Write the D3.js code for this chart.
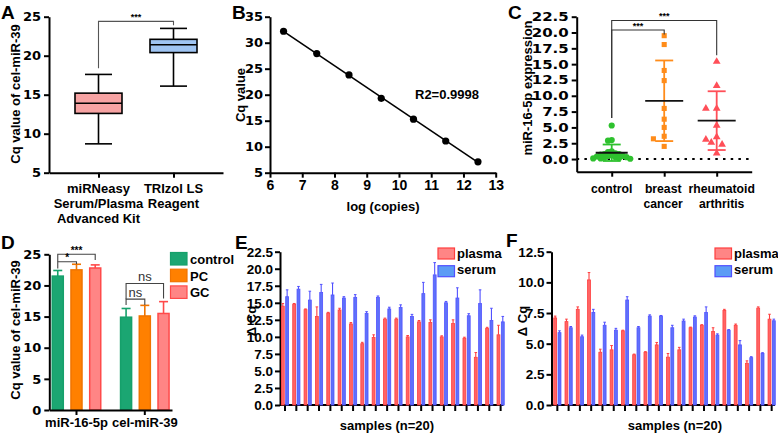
<!DOCTYPE html>
<html><head><meta charset="utf-8">
<script src="https://cdn.jsdelivr.net/npm/d3@7"></script>
<style>
body{margin:0;background:#fff;}
svg{display:block;}
</style></head><body>
<svg id="c" width="778" height="433"></svg>
<script>
// ================= DATA =================
// Panel A: box plots
const kitNames = ["miRNeasy", "TRIzol"];
const kitLabels = [["miRNeasy", "Serum/Plasma", "Advanced Kit"], ["TRIzol LS", "Reagent"]];
const boxMin = [8.7, 16.1];
const boxQ1 = [12.6, 20.4];
const boxMedian = [13.9, 21.4];
const boxQ3 = [15.2, 22.1];
const boxMax = [17.6, 23.5];
const yTicksA = [5, 10, 15, 20, 25];

// Panel B: standard curve
const logCopies = [6.42, 7.45, 8.45, 9.45, 10.45, 11.45, 12.45];
const cqValues = [32.2, 27.9, 23.8, 19.3, 15.3, 11.1, 7.1];
const r2Label = "R2=0.9998";
const xTicksB = [6, 7, 8, 9, 10, 11, 12, 13];
const yTicksB = [5, 10, 15, 20, 25, 30, 35];

// Panel C: scatter with mean ± SD
const groupsC = ["control", "breast cancer", "rheumatoid arthritis"];
const groupLabelsC = [["control"], ["breast", "cancer"], ["rheumatoid", "arthritis"]];
const controlValues = [5.3, 3.0, 2.9, 1.2, 1.1, 0.9, 0.8, 0.8, 0.7, 0.6, 0.5, 0.5, 0.4, 0.3, 0.3, 0.2, 0.15, 0.1, 0.1, 0.05];
const breastValues = [19.5, 18.1, 14.0, 12.4, 8.0, 6.3, 5.0, 3.6, 3.2, 2.0];
const rheumValues = [15.4, 11.6, 8.0, 8.0, 5.3, 3.5, 3.1, 2.6, 2.3, 0.9];
const yTicksC = [0, 2.5, 5, 7.5, 10, 12.5, 15, 17.5, 20, 22.5];

// Panel D: grouped bars
const targetsD = ["miR-16-5p", "cel-miR-39"];
const seriesD = ["control", "PC", "GC"];
const controlMeanD = [21.5, 14.9];
const pcMeanD = [22.5, 15.1];
const gcMeanD = [22.8, 15.5];
const controlSdD = [0.9, 1.4];
const pcSdD = [0.9, 1.7];
const gcSdD = [0.5, 1.9];
const yTicksD = [0, 5, 10, 15, 20, 25];

// Panel E: ΔCq per sample (mean, SD)
const samples = d3.range(1, 21).map(String);
const ePlasma = [14.5, 14.8, 14.0, 13.0, 13.5, 13.95, 11.9, 9.0, 9.9, 12.6, 12.6, 10.0, 12.2, 12.1, 10.0, 11.95, 9.8, 7.0, 11.25, 10.3];
const ePlasmaSd = [0.4, 0.1, 0.1, 1.4, 0.1, 0.25, 0.2, 0.2, 0.4, 0.15, 0.15, 0.2, 0.2, 0.4, 0.15, 0.55, 0.15, 0.7, 0.15, 1.4];
const eSerum = [15.9, 17.0, 15.4, 16.5, 16.15, 15.7, 15.8, 13.45, 15.8, 14.1, 14.3, 13.0, 16.35, 19.1, 15.0, 15.7, 13.1, 14.9, 12.4, 12.2];
const eSerumSd = [1.0, 0.4, 1.3, 1.2, 1.75, 0.2, 0.4, 0.25, 0.2, 0.25, 0.4, 0.3, 1.65, 1.8, 0.2, 1.5, 0.3, 2.0, 1.8, 0.8];
const yTicksE = [0, 2.5, 5, 7.5, 10, 12.5, 15, 17.5, 20, 22.5];

// Panel F
const fPlasma = [7.1, 6.8, 7.8, 10.2, 4.3, 4.5, 6.05, 4.1, 4.3, 4.9, 3.9, 4.5, 6.3, 6.5, 6.0, 7.7, 6.5, 3.4, 7.9, 7.0];
const fPlasmaSd = [0.15, 0.2, 0.2, 0.6, 0.25, 0.35, 0.05, 0.05, 0.05, 0.2, 0.3, 0.2, 0.05, 0.05, 0.3, 0.1, 0.1, 0.2, 0.1, 0.4];
const fSerum = [5.9, 6.3, 5.57, 7.55, 6.5, 6.1, 8.56, 6.3, 7.25, 7.25, 6.3, 6.85, 7.17, 7.55, 5.7, 6.1, 4.9, 3.86, 4.2, 6.87];
const fSerumSd = [0.15, 0.1, 0.13, 0.25, 0.25, 0.15, 0.27, 0.1, 0.1, 0.05, 0.2, 0.15, 0.1, 0.45, 0.1, 0.05, 0.35, 0.08, 0.07, 0.13];
const yTicksF = [0, 2.5, 5, 7.5, 10, 12.5];
const seriesEF = ["plasma", "serum"];

// ================= DRAW =================
const FONT = '"Liberation Sans", Arial, Helvetica, sans-serif';
const TFONT = '"DejaVu Sans", "Liberation Sans", sans-serif';
const svg = d3.select("#c");
svg.append("rect").attr("width", 778).attr("height", 433).attr("fill", "#fff");

function styleAxis(g, size, family) {
  g.attr("font-family", family || FONT).attr("font-size", size).attr("font-weight", "bold");
  g.select(".domain").attr("stroke", "#000").attr("stroke-width", 2);
  g.selectAll(".tick line").attr("stroke", "#000").attr("stroke-width", 2);
  g.selectAll(".tick text").attr("fill", "#000");
  return g;
}
function txt(x, y, s, size, opts) {
  opts = opts || {};
  return svg.append("text").attr("x", x).attr("y", y).text(s)
    .attr("font-family", opts.family || FONT).attr("font-size", size)
    .attr("font-weight", opts.weight || "bold").attr("fill", opts.fill || "#000")
    .attr("text-anchor", opts.anchor || "start");
}
function yTitle(s, x, y, size) {
  svg.append("text").attr("transform", `translate(${x},${y}) rotate(-90)`)
    .attr("dy", "0.35em").attr("text-anchor", "middle").attr("font-family", FONT)
    .attr("font-size", size || 13).attr("font-weight", "bold").text(s);
}
function bracket(pts, stroke) {
  svg.append("path").attr("d", d3.line()(pts)).attr("fill", "none")
    .attr("stroke", stroke || "#444").attr("stroke-width", 1.1);
}

// Panel letters
[["A", 1, 19], ["B", 232, 19], ["C", 508, 19], ["D", 1, 249], ["E", 235, 249], ["F", 506, 247]]
  .forEach(d => txt(d[1], d[2], d[0], 19));

// ---------- Panel A ----------
{
  const x = d3.scalePoint().domain(kitNames).range([49, 223]).padding(0.66);
  const y = d3.scaleLinear().domain([5, 25]).range([172.7, 16.7]);
  styleAxis(svg.append("g").attr("transform", "translate(49,0)")
    .call(d3.axisLeft(y).tickValues(yTicksA).tickFormat(d3.format("d")).tickSize(5).tickSizeOuter(0).tickPadding(3)), 13, TFONT);
  styleAxis(svg.append("g").attr("transform", "translate(0,172.7)")
    .call(d3.axisBottom(x).tickSize(5).tickSizeOuter(0).tickFormat("")), 13);
  const fills = ["#f7a3a3", "#9fc4f2"];
  kitNames.forEach((k, i) => {
    const cx = x(k), bw = 47, cw = 27;
    const g = svg.append("g").attr("stroke", "#000").attr("stroke-width", 1.6);
    g.append("line").attr("x1", cx).attr("x2", cx).attr("y1", y(boxQ3[i])).attr("y2", y(boxMax[i]));
    g.append("line").attr("x1", cx).attr("x2", cx).attr("y1", y(boxQ1[i])).attr("y2", y(boxMin[i]));
    g.append("line").attr("x1", cx - cw / 2).attr("x2", cx + cw / 2).attr("y1", y(boxMax[i])).attr("y2", y(boxMax[i]));
    g.append("line").attr("x1", cx - cw / 2).attr("x2", cx + cw / 2).attr("y1", y(boxMin[i])).attr("y2", y(boxMin[i]));
    g.append("rect").attr("x", cx - bw / 2).attr("width", bw).attr("y", y(boxQ3[i]))
      .attr("height", y(boxQ1[i]) - y(boxQ3[i])).attr("fill", fills[i]);
    g.append("line").attr("x1", cx - bw / 2).attr("x2", cx + bw / 2).attr("y1", y(boxMedian[i])).attr("y2", y(boxMedian[i]));
    kitLabels[i].forEach((l, j) => txt(cx, 193 + j * 15, l, 13, { anchor: "middle" }));
  });
  bracket([[x(kitNames[0]), y(18.4)], [x(kitNames[0]), y(24.4)], [x(kitNames[1]), y(24.4)], [x(kitNames[1]), y(23.9)]], "#555");
  txt((x(kitNames[0]) + x(kitNames[1])) / 2, y(24.4) - 1, "***", 9, { anchor: "middle" });
  yTitle("Cq value of cel-miR-39", 15, 94);
}

// ---------- Panel B ----------
{
  const x = d3.scaleLinear().domain([6, 13]).range([270, 495.7]);
  const y = d3.scaleLinear().domain([5, 35]).range([172.7, 16.7]);
  styleAxis(svg.append("g").attr("transform", "translate(270,0)")
    .call(d3.axisLeft(y).tickValues(yTicksB).tickFormat(d3.format("d")).tickSize(5).tickSizeOuter(0).tickPadding(2)), 13, TFONT);
  styleAxis(svg.append("g").attr("transform", "translate(0,172.7)")
    .call(d3.axisBottom(x).tickValues(xTicksB).tickFormat(d3.format("d")).tickSize(5).tickSizeOuter(0).tickPadding(2)), 14);
  const mx = d3.mean(logCopies), my = d3.mean(cqValues);
  const slope = d3.sum(logCopies, (v, i) => (v - mx) * (cqValues[i] - my)) / d3.sum(logCopies, v => (v - mx) * (v - mx));
  const icpt = my - slope * mx;
  const ex = d3.extent(logCopies);
  svg.append("line").attr("x1", x(ex[0])).attr("x2", x(ex[1]))
    .attr("y1", y(icpt + slope * ex[0])).attr("y2", y(icpt + slope * ex[1]))
    .attr("stroke", "#000").attr("stroke-width", 1.6);
  svg.selectAll(".ptB").data(logCopies).enter().append("circle")
    .attr("cx", d => x(d)).attr("cy", (d, i) => y(cqValues[i])).attr("r", 3.6).attr("fill", "#000");
  txt(415, 99, r2Label, 13);
  txt(383, 211, "log (copies)", 13, { anchor: "middle" });
  yTitle("Cq value", 240, 95);
}

// ---------- Panel C ----------
{
  const x = d3.scalePoint().domain(groupsC).range([576.7, 751.7]).padding(0.667);
  const y = d3.scaleLinear().domain([-2, 22.5]).range([171.7, 16.7]);
  const ax = styleAxis(svg.append("g").attr("transform", "translate(576.7,0)")
    .call(d3.axisLeft(y).tickValues(yTicksC).tickFormat(d3.format(".1f")).tickSize(5).tickSizeOuter(0).tickPadding(3)), 12.5, TFONT);
  ax.selectAll(".tick text").attr("transform", "scale(1.2,1)").attr("x", -8 / 1.2);
  styleAxis(svg.append("g").attr("transform", "translate(0,171.7)")
    .call(d3.axisBottom(x).tickSize(5).tickSizeOuter(0).tickFormat("")), 13);
  svg.append("line").attr("x1", 576.7).attr("x2", 751.7).attr("y1", y(0)).attr("y2", y(0))
    .attr("stroke", "#000").attr("stroke-width", 2).attr("stroke-dasharray", "2.5,5.2");
  const colors = ["#2ec12e", "#ff8c1a", "#ff4f58"];
  const sets = [controlValues, breastValues, rheumValues];
  const shapes = [d3.symbolCircle, d3.symbolSquare, d3.symbolTriangle];
  const sizes = [30, 26, 26];
  const labelShift = [0, -1, 5];
  sets.forEach((vals, gi) => {
    const cx = x(groupsC[gi]);
    // beeswarm layout (dense, Prism-like)
    const minD = gi === 0 ? 3.7 : 6.0, step = gi === 0 ? 3.7 : 5.4;
    const pts = vals.map(v => ({ v, py: y(v), px: cx }));
    const placed = [];
    pts.slice().sort((a, b) => b.v - a.v).forEach(p => {
      for (let i = 0; i < 80; i++) {
        const off = i === 0 ? 0 : (i % 2 ? -1 : 1) * Math.ceil(i / 2) * step;
        const ok = placed.every(q => Math.hypot(q.px - (cx + off), q.py - p.py) >= minD);
        if (ok) { p.px = cx + off; break; }
      }
      placed.push(p);
    });
    svg.append("g").selectAll("path").data(pts).enter().append("path")
      .attr("d", d3.symbol().type(shapes[gi]).size(sizes[gi]))
      .attr("transform", d => `translate(${d.px},${d.py})`).attr("fill", colors[gi]);
    const m = d3.mean(vals), sd = d3.deviation(vals);
    const g = svg.append("g").attr("stroke-width", 1.8);
    g.append("line").attr("x1", cx).attr("x2", cx).attr("y1", y(m - sd)).attr("y2", y(m + sd)).attr("stroke", colors[gi]);
    [m - sd, m + sd].forEach(v => g.append("line").attr("x1", cx - 9).attr("x2", cx + 9)
      .attr("y1", y(v)).attr("y2", y(v)).attr("stroke", colors[gi]));
    const mw = gi === 0 ? 16 : 19;
    g.append("line").attr("x1", cx - mw).attr("x2", cx + mw).attr("y1", y(m)).attr("y2", y(m)).attr("stroke", "#111");
    groupLabelsC[gi].forEach((l, j) => txt(cx + labelShift[gi], 193 + j * 14.6, l, 12.2, { anchor: "middle" }));
  });
  const c0 = x(groupsC[0]), c1 = x(groupsC[1]), c2 = x(groupsC[2]);
  bracket([[c0, y(6.5)], [c0, y(21.9)], [c2, y(21.9)], [c2, y(16.4)]], "#333");
  bracket([[c0, y(6.5)], [c0, y(20.4)], [c1, y(20.4)], [c1, y(19.7)]], "#333");
  txt((c0 + c1) / 2, y(20.4) - 1, "***", 9, { anchor: "middle" });
  txt((c0 + c2) / 2, y(21.9) - 1, "***", 9, { anchor: "middle" });
  yTitle("miR-16-5p expression", 527, 88);
}

// ---------- Panel D ----------
{
  const x0 = d3.scaleBand().domain(targetsD).range([49.3, 172]).paddingInner(0.268).paddingOuter(0.032);
  const x1 = d3.scaleBand().domain(seriesD).range([0, x0.bandwidth()]).paddingInner(0.33);
  const y = d3.scaleLinear().domain([0, 25]).range([410, 254.3]);
  styleAxis(svg.append("g").attr("transform", "translate(49.3,0)")
    .call(d3.axisLeft(y).tickValues(yTicksD).tickFormat(d3.format("d")).tickSize(5).tickSizeOuter(0).tickPadding(3)), 13, TFONT);
  const means = [controlMeanD, pcMeanD, gcMeanD], sds = [controlSdD, pcSdD, gcSdD];
  const fills = ["#1ba672", "#ff8000", "#ff8585"];
  const strokes = ["#16a06b", "#f07400", "#ff4a4a"];
  targetsD.forEach((t, ti) => {
    seriesD.forEach((s, si) => {
      const bx = x0(t) + x1(s), bw = x1.bandwidth(), cx = bx + bw / 2;
      const v = means[si][ti], e = sds[si][ti];
      svg.append("line").attr("x1", cx).attr("x2", cx).attr("y1", y(v)).attr("y2", y(v + e))
        .attr("stroke", strokes[si]).attr("stroke-width", 1.6);
      svg.append("line").attr("x1", cx - 4.5).attr("x2", cx + 4.5).attr("y1", y(v + e)).attr("y2", y(v + e))
        .attr("stroke", strokes[si]).attr("stroke-width", 1.6);
      svg.append("rect").attr("x", bx + 0.75).attr("width", bw - 1.5).attr("y", y(v)).attr("height", y(0) - y(v))
        .attr("fill", fills[si]).attr("stroke", strokes[si]).attr("stroke-width", 1.5);
    });
  });
  styleAxis(svg.append("g").attr("transform", "translate(0,410)")
    .call(d3.axisBottom(x0).tickSize(5).tickSizeOuter(0).tickPadding(3)), 13);
  const cxs = (t, s) => x0(t) + x1(s) + x1.bandwidth() / 2;
  bracket([[cxs(targetsD[0], "control"), y(22.7)], [cxs(targetsD[0], "control"), y(23.8)], [cxs(targetsD[0], "PC"), y(23.8)], [cxs(targetsD[0], "PC"), y(23.4)]]);
  bracket([[cxs(targetsD[0], "control"), y(23.8)], [cxs(targetsD[0], "control"), y(25.0)], [cxs(targetsD[0], "GC"), y(25.0)], [cxs(targetsD[0], "GC"), y(24.1)]]);
  txt((cxs(targetsD[0], "control") + cxs(targetsD[0], "PC")) / 2, y(23.8) - 0.5, "*", 10, { anchor: "middle" });
  txt((cxs(targetsD[0], "control") + cxs(targetsD[0], "GC")) / 2, y(25.0) - 0.5, "***", 10, { anchor: "middle" });
  bracket([[cxs(targetsD[1], "control"), y(16.85)], [cxs(targetsD[1], "control"), y(17.8)], [cxs(targetsD[1], "PC"), y(17.8)], [cxs(targetsD[1], "PC"), y(16.85)]]);
  bracket([[cxs(targetsD[1], "control"), y(17.8)], [cxs(targetsD[1], "control"), y(20.3)], [cxs(targetsD[1], "GC"), y(20.3)], [cxs(targetsD[1], "GC"), y(17.9)]]);
  txt((cxs(targetsD[1], "control") + cxs(targetsD[1], "PC")) / 2, y(17.8) - 2.5, "ns", 13, { anchor: "middle", weight: "normal", fill: "#333" });
  txt((cxs(targetsD[1], "control") + cxs(targetsD[1], "GC")) / 2, y(20.3) - 2.5, "ns", 13, { anchor: "middle", weight: "normal", fill: "#333" });
  seriesD.forEach((s, si) => {
    svg.append("rect").attr("x", 170.5).attr("y", 252.5 + si * 16.7).attr("width", 16.5).attr("height", 12.5)
      .attr("fill", fills[si]).attr("stroke", strokes[si]).attr("stroke-width", 1.2);
    txt(190, 264 + si * 16.7, s, 13);
  });
  yTitle("Cq value of cel-miR-39", 15, 330);
}

// ---------- Panels E & F ----------
function deltaPanel(opt) {
  const x = d3.scaleBand().domain(samples).range(opt.xr).padding(0);
  const sub = d3.scaleBand().domain(seriesEF).range([-4, 4]).paddingInner(0.15);
  const y = d3.scaleLinear().domain(opt.yd).range([405, 251.7]);
  styleAxis(svg.append("g").attr("transform", `translate(${opt.axisX},0)`)
    .call(d3.axisLeft(y).tickValues(opt.ticks).tickFormat(d3.format(".1f")).tickSize(5).tickSizeOuter(0).tickPadding(2)), 13.5);
  const xa = styleAxis(svg.append("g").attr("transform", "translate(0,405)")
    .call(d3.axisBottom(x).tickSize(6).tickFormat("")), 13);
  xa.select(".domain").remove();
  svg.append("line").attr("x1", opt.axisX).attr("x2", opt.axisEnd).attr("y1", 405).attr("y2", 405)
    .attr("stroke", "#000").attr("stroke-width", 2);
  const fills = ["#ff6464", "#5e72fa"], strokes = ["#ff3e3e", "#5050ff"];
  const vals = [opt.plasma, opt.serum], sds = [opt.plasmaSd, opt.serumSd];
  seriesEF.forEach((s, si) => {
    const g = svg.append("g");
    samples.forEach((smp, i) => {
      const bx = x(smp) + x.bandwidth() / 2 + sub(s), bw = sub.bandwidth(), cx = bx + bw / 2;
      const v = vals[si][i], e = sds[si][i];
      g.append("line").attr("x1", cx).attr("x2", cx).attr("y1", y(v)).attr("y2", y(v + e))
        .attr("stroke", strokes[si]).attr("stroke-width", 1.1);
      g.append("line").attr("x1", cx - 1.3).attr("x2", cx + 1.3).attr("y1", y(v + e)).attr("y2", y(v + e))
        .attr("stroke", strokes[si]).attr("stroke-width", 1);
      g.append("rect").attr("x", bx + 0.4).attr("width", bw - 0.8).attr("y", y(v)).attr("height", y(0) - y(v))
        .attr("fill", fills[si]).attr("stroke", strokes[si]).attr("stroke-width", 0.8);
    });
    svg.append("rect").attr("x", opt.legX).attr("y", 248 + si * 17.7).attr("width", 16.5).attr("height", 11)
      .attr("fill", si ? "#5c9cf5" : "#ff8585").attr("stroke", strokes[si]).attr("stroke-width", 1.2);
    txt(opt.legX + 19, 257.7 + si * 16.6, s, 13);
  });
  txt(opt.titleX, 430, "samples (n=20)", 13, { anchor: "middle" });
  yTitle("Δ Cq", opt.yTitleX, 321);
}
deltaPanel({ xr: [279.3, 506.3], axisX: 280, axisEnd: 503.5, yd: [0, 22.5], ticks: yTicksE,
  plasma: ePlasma, plasmaSd: ePlasmaSd, serum: eSerum, serumSd: eSerumSd, legX: 438, titleX: 387, yTitleX: 251 });
deltaPanel({ xr: [551.7, 777.3], axisX: 551.5, axisEnd: 775, yd: [0, 12.5], ticks: yTicksF,
  plasma: fPlasma, plasmaSd: fPlasmaSd, serum: fSerum, serumSd: fSerumSd, legX: 715, titleX: 675, yTitleX: 522 });
</script>
</body></html>
